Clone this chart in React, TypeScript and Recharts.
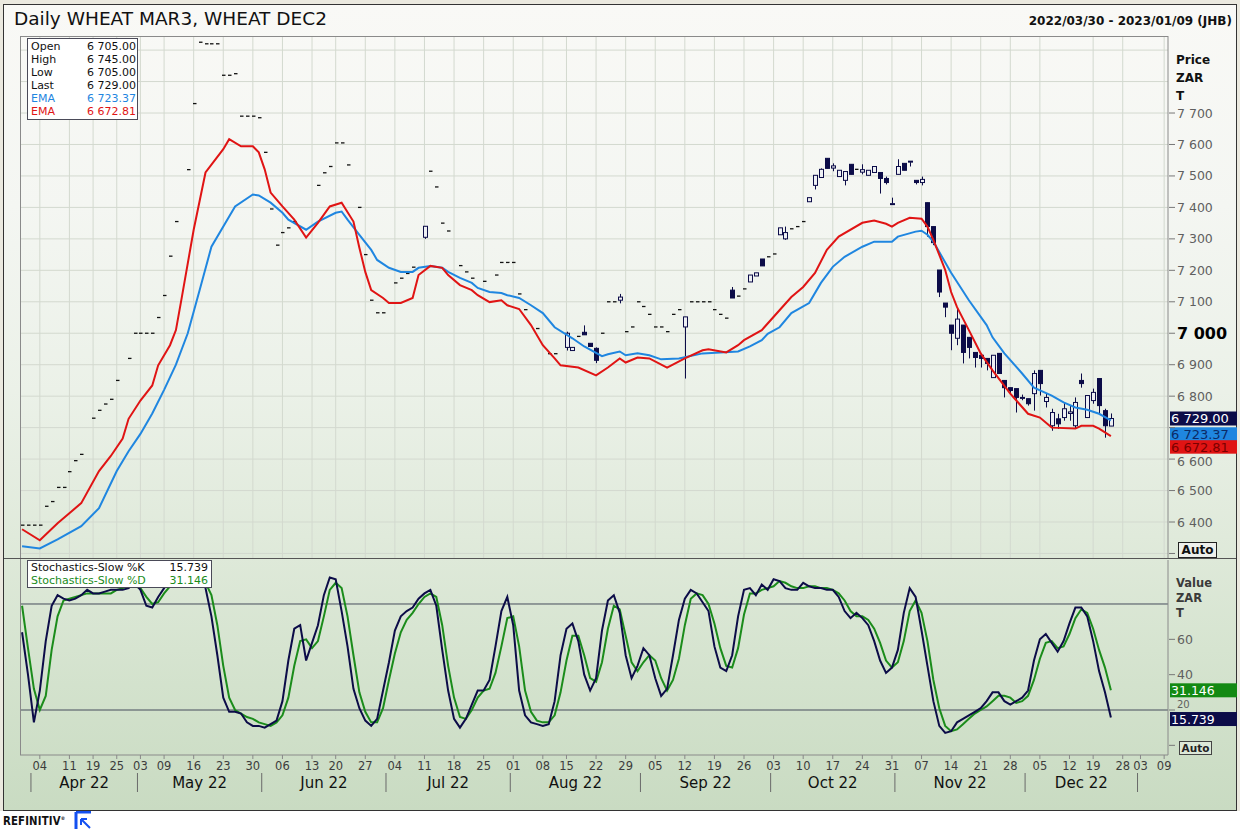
import React from 'react'
import { ComposedChart, Bar, Line, XAxis, YAxis, CartesianGrid, ReferenceLine } from 'recharts'

// ── Data ────────────────────────────────────────────────────────────────────
// x = trading-day index, 0 = 2022-03-30 (JSE calendar)

// [day, open, high, low, close]
const candles: [number, number, number, number, number][] = [
  [0, 6390, 6390, 6390, 6390], [1, 6390, 6390, 6390, 6390], [2, 6390, 6390, 6390, 6390], [3, 6390, 6390, 6390, 6390],
  [4, 6450, 6450, 6450, 6450], [5, 6465, 6465, 6465, 6465], [6, 6510, 6510, 6510, 6510], [7, 6510, 6510, 6510, 6510],
  [8, 6560, 6560, 6560, 6560], [9, 6595, 6595, 6595, 6595], [10, 6615, 6615, 6615, 6615], [12, 6730, 6730, 6730, 6730],
  [13, 6755, 6755, 6755, 6755], [14, 6775, 6775, 6775, 6775], [15, 6790, 6790, 6790, 6790], [16, 6850, 6850, 6850, 6850],
  [18, 6920, 6920, 6920, 6920], [19, 7000, 7000, 7000, 7000], [20, 7000, 7000, 7000, 7000], [21, 7000, 7000, 7000, 7000],
  [22, 7000, 7000, 7000, 7000], [23, 7050, 7050, 7050, 7050], [24, 7120, 7120, 7120, 7120], [25, 7245, 7245, 7245, 7245],
  [26, 7355, 7355, 7355, 7355], [28, 7520, 7520, 7520, 7520], [29, 7730, 7730, 7730, 7730], [30, 7925, 7925, 7925, 7925],
  [31, 7920, 7920, 7920, 7920], [32, 7920, 7920, 7920, 7920], [33, 7920, 7920, 7920, 7920], [34, 7820, 7820, 7820, 7820],
  [35, 7820, 7820, 7820, 7820], [36, 7825, 7825, 7825, 7825], [37, 7690, 7690, 7690, 7690], [38, 7690, 7690, 7690, 7690],
  [39, 7690, 7690, 7690, 7690], [40, 7685, 7685, 7685, 7685], [41, 7575, 7575, 7575, 7575], [42, 7395, 7395, 7395, 7395],
  [43, 7280, 7280, 7280, 7280], [44, 7320, 7320, 7320, 7320], [45, 7335, 7335, 7335, 7335], [46, 7355, 7355, 7355, 7355],
  [50, 7470, 7470, 7470, 7470], [51, 7510, 7510, 7510, 7510], [52, 7530, 7530, 7530, 7530], [53, 7605, 7605, 7605, 7605],
  [54, 7605, 7605, 7605, 7605], [55, 7535, 7535, 7535, 7535], [57, 7400, 7400, 7400, 7400], [58, 7250, 7250, 7250, 7250],
  [59, 7105, 7105, 7105, 7105], [60, 7065, 7065, 7065, 7065], [61, 7065, 7065, 7065, 7065], [63, 7160, 7160, 7160, 7160],
  [64, 7175, 7175, 7175, 7175], [65, 7190, 7190, 7190, 7190], [66, 7210, 7210, 7210, 7210], [68, 7305, 7340, 7300, 7340],
  [69, 7515, 7515, 7515, 7515], [70, 7465, 7465, 7465, 7465], [71, 7350, 7350, 7350, 7350], [72, 7325, 7325, 7325, 7325],
  [74, 7215, 7215, 7215, 7215], [75, 7195, 7195, 7195, 7195], [76, 7175, 7175, 7175, 7175], [78, 7165, 7165, 7165, 7165],
  [80, 7185, 7185, 7185, 7185], [81, 7225, 7225, 7225, 7225], [82, 7225, 7225, 7225, 7225], [83, 7225, 7225, 7225, 7225],
  [84, 7125, 7125, 7125, 7125], [85, 7075, 7075, 7075, 7075], [87, 7015, 7015, 7015, 7015], [89, 6935, 6935, 6935, 6935],
  [90, 6935, 6935, 6935, 6935], [92, 6955, 7005, 6945, 7000], [93, 6945, 6955, 6945, 6955], [94, 6990, 6990, 6990, 6990],
  [95, 7003, 7025, 6995, 6995], [96, 6968, 6968, 6958, 6958], [97, 6952, 6955, 6905, 6914], [98, 7000, 7000, 7000, 7000],
  [99, 7100, 7100, 7100, 7100], [100, 7100, 7100, 7100, 7100], [101, 7105, 7125, 7095, 7115], [102, 7005, 7005, 7005, 7005],
  [103, 7020, 7020, 7020, 7020], [104, 7100, 7100, 7100, 7100], [105, 7085, 7085, 7085, 7085], [106, 7060, 7060, 7060, 7060],
  [107, 7020, 7020, 7020, 7020], [108, 7020, 7020, 7020, 7020], [109, 7005, 7005, 7005, 7005], [110, 7060, 7060, 7060, 7060],
  [111, 7075, 7075, 7075, 7075], [112, 7020, 7052, 6856, 7052], [113, 7100, 7100, 7100, 7100], [114, 7100, 7100, 7100, 7100],
  [115, 7100, 7100, 7100, 7100], [116, 7100, 7100, 7100, 7100], [117, 7075, 7075, 7075, 7075], [118, 7060, 7060, 7060, 7060],
  [119, 7048, 7048, 7048, 7048], [120, 7137, 7147, 7112, 7112], [121, 7118, 7118, 7118, 7118], [122, 7141, 7141, 7141, 7141],
  [123, 7163, 7185, 7163, 7185], [124, 7182, 7192, 7182, 7192], [125, 7236, 7236, 7214, 7214], [126, 7243, 7243, 7243, 7243],
  [127, 7252, 7252, 7252, 7252], [128, 7313, 7335, 7313, 7335], [129, 7300, 7339, 7297, 7320], [130, 7332, 7332, 7332, 7332],
  [131, 7339, 7339, 7339, 7339], [132, 7355, 7355, 7355, 7355], [133, 7418, 7431, 7418, 7431], [134, 7470, 7502, 7457, 7502],
  [135, 7495, 7524, 7495, 7521], [136, 7556, 7556, 7524, 7524], [137, 7525, 7540, 7515, 7532], [138, 7498, 7518, 7498, 7518],
  [139, 7486, 7514, 7470, 7514], [140, 7537, 7537, 7505, 7505], [141, 7521, 7521, 7521, 7521], [142, 7512, 7537, 7505, 7520],
  [143, 7502, 7518, 7502, 7518], [144, 7511, 7530, 7511, 7530], [145, 7511, 7511, 7444, 7492], [146, 7492, 7498, 7473, 7479],
  [147, 7412, 7431, 7412, 7412], [148, 7505, 7553, 7505, 7530], [149, 7540, 7540, 7518, 7518], [150, 7547, 7547, 7530, 7547],
  [151, 7486, 7486, 7473, 7479], [152, 7479, 7498, 7470, 7489], [153, 7415, 7415, 7307, 7339], [154, 7339, 7339, 7280, 7288],
  [155, 7201, 7201, 7115, 7131], [156, 7096, 7096, 7051, 7083], [157, 7026, 7026, 6946, 7000], [158, 6984, 7080, 6962, 7045],
  [159, 7026, 7026, 6904, 6939], [160, 6987, 6987, 6920, 6955], [161, 6939, 6939, 6891, 6923], [162, 6930, 6930, 6891, 6920],
  [163, 6920, 6920, 6882, 6904], [164, 6859, 6930, 6859, 6930], [165, 6936, 6936, 6872, 6872], [166, 6850, 6850, 6796, 6827],
  [167, 6827, 6827, 6808, 6818], [168, 6824, 6824, 6748, 6796], [169, 6796, 6805, 6787, 6796], [170, 6792, 6792, 6770, 6776],
  [171, 6808, 6882, 6754, 6872], [172, 6882, 6882, 6802, 6840], [173, 6783, 6808, 6764, 6796], [174, 6706, 6760, 6690, 6748],
  [175, 6728, 6744, 6696, 6712], [176, 6732, 6780, 6722, 6760], [177, 6745, 6770, 6722, 6750], [178, 6706, 6796, 6696, 6780],
  [179, 6850, 6872, 6827, 6840], [180, 6732, 6802, 6732, 6802], [181, 6786, 6824, 6776, 6812], [182, 6856, 6856, 6744, 6770],
  [183, 6754, 6760, 6668, 6706], [184, 6705, 6745, 6705, 6729],
]

// [day, value]
const emaBlue: [number, number][] = [
  [0, 6323], [3, 6316], [6, 6345], [10, 6387], [13, 6444], [16, 6562], [18, 6625], [20, 6680], [22, 6745], [24, 6820],
  [26, 6900], [28, 7000], [30, 7137], [32, 7275], [35, 7371], [36, 7403], [39, 7441], [40, 7438], [42, 7415],
  [44, 7383], [45, 7361], [48, 7329], [50, 7355], [53, 7383], [54, 7387], [55, 7361], [57, 7313], [59, 7265], [60, 7233],
  [62, 7208], [64, 7195], [66, 7195], [67, 7208], [69, 7214], [71, 7208], [72, 7195], [74, 7176], [76, 7160], [77, 7144],
  [79, 7131], [81, 7128], [82, 7121], [84, 7112], [86, 7089], [88, 7064], [90, 7019], [93, 6984], [95, 6958], [98, 6927],
  [99, 6933], [101, 6942], [102, 6930], [104, 6936], [106, 6930], [108, 6917], [111, 6920], [115, 6936], [118, 6939],
  [121, 6942], [123, 6958], [125, 6978], [126, 6998], [128, 7019], [130, 7064], [133, 7096], [135, 7160], [137, 7211],
  [139, 7243], [142, 7275], [144, 7291], [147, 7291], [148, 7307], [151, 7323], [152, 7326], [153, 7313], [154, 7291],
  [157, 7192], [160, 7105], [163, 7026], [164, 6987], [166, 6936], [169, 6872], [171, 6827], [174, 6802], [176, 6780],
  [178, 6764], [180, 6757], [182, 6744], [184, 6723.37],
]

const emaRed: [number, number][] = [
  [0, 6377], [3, 6342], [6, 6396], [10, 6460], [13, 6562], [15, 6610], [17, 6665], [18, 6728], [20, 6786], [22, 6834],
  [23, 6898], [25, 6962], [26, 7010], [27, 7115], [29, 7329], [31, 7511], [34, 7585], [35, 7617], [37, 7594], [39, 7594],
  [40, 7575], [41, 7521], [42, 7447], [44, 7403], [46, 7361], [48, 7304], [50, 7351], [52, 7403], [54, 7415], [56, 7355],
  [57, 7272], [58, 7195], [59, 7137], [61, 7112], [62, 7096], [64, 7096], [66, 7112], [67, 7185], [69, 7214], [71, 7208],
  [72, 7185], [74, 7153], [76, 7137], [77, 7121], [79, 7099], [81, 7105], [82, 7089], [84, 7077], [86, 7026], [88, 6962],
  [90, 6920], [91, 6898], [94, 6891], [97, 6866], [99, 6891], [101, 6920], [102, 6907], [104, 6923], [106, 6920],
  [109, 6891], [112, 6920], [115, 6946], [116, 6949], [119, 6939], [121, 6962], [122, 6978], [125, 7010], [128, 7073],
  [130, 7115], [132, 7147], [134, 7192], [136, 7265], [138, 7307], [142, 7351], [144, 7358], [146, 7348], [147, 7339],
  [148, 7351], [150, 7367], [152, 7364], [153, 7339], [154, 7297], [155, 7249], [156, 7201], [157, 7131], [158, 7083],
  [160, 7010], [162, 6936], [164, 6882], [167, 6808], [170, 6744], [172, 6732], [174, 6700], [178, 6697], [179, 6706],
  [181, 6706], [182, 6697], [184, 6672.81],
]

// one value per trading day, 0..184
const stochK = [
  64, 40, 13, 31, 59, 79, 85, 83, 82, 83, 85, 88, 86, 86, 87, 88, 88, 88, 89, 92,
  88, 79, 78, 84, 89, 93, 93, 94, 94, 96, 95, 89, 73, 51, 27, 19, 19, 18, 13, 11,
  11, 10, 12, 14, 25, 48, 66, 68, 48, 58, 68, 85, 95, 94, 76, 56, 32, 21, 14, 11,
  15, 31, 47, 65, 73, 76, 78, 83, 86, 88, 79, 54, 31, 15, 10, 15, 23, 31, 31, 37,
  56, 76, 84, 68, 31, 17, 13, 12, 11, 12, 25, 51, 66, 69, 59, 40, 31, 38, 65, 82,
  85, 75, 51, 38, 45, 55, 51, 38, 28, 32, 51, 71, 83, 88, 86, 81, 76, 56, 44, 42,
  51, 73, 88, 89, 85, 91, 88, 94, 93, 89, 88, 88, 92, 90, 89, 89, 88, 88, 84, 76,
  72, 75, 72, 68, 59, 48, 41, 44, 54, 75, 89, 84, 65, 45, 25, 11, 7, 8, 13, 15,
  17, 19, 21, 25, 30, 30, 25, 23, 25, 27, 31, 48, 60, 63, 58, 53, 59, 69, 78, 78,
  73, 59, 42, 30, 15.739,
]

const stochD = [
  79, 55, 32, 20, 28, 54, 73, 82, 83, 84, 85, 86, 86, 86, 86, 86, 88, 89, 90, 90,
  89, 84, 80, 81, 86, 90, 92, 93, 94, 94, 94, 92, 85, 68, 45, 27, 20, 18, 16, 15,
  13, 12, 11, 13, 17, 27, 45, 59, 60, 55, 59, 73, 88, 92, 89, 73, 51, 30, 19, 13,
  13, 21, 37, 52, 64, 71, 75, 80, 84, 86, 84, 68, 45, 27, 16, 15, 20, 27, 31, 32,
  41, 56, 72, 73, 56, 31, 19, 14, 13, 13, 17, 30, 48, 62, 62, 51, 38, 36, 47, 66,
  79, 77, 62, 47, 42, 47, 51, 48, 38, 31, 37, 49, 68, 83, 86, 85, 80, 69, 55, 45,
  44, 55, 74, 86, 86, 88, 89, 90, 93, 92, 90, 89, 89, 90, 90, 89, 89, 88, 86, 82,
  76, 73, 73, 71, 66, 58, 48, 44, 47, 59, 76, 82, 75, 59, 37, 21, 11, 8, 9, 12,
  15, 18, 20, 22, 25, 28, 28, 27, 24, 25, 28, 37, 49, 58, 59, 55, 56, 63, 72, 77,
  75, 66, 54, 44, 31.146,
]

const weekTicks = [3, 8, 12, 16, 20, 24, 29, 34, 39, 44, 49, 53, 58, 63, 68, 73, 78, 83, 88, 92, 97, 102, 107,
  112, 117, 122, 127, 132, 137, 142, 147, 152, 157, 162, 167, 172, 177, 181, 186, 189, 193]
const weekLabels = ['04', '11', '19', '25', '03', '09', '16', '23', '30', '06', '13', '20', '27', '04', '11', '18',
  '25', '01', '08', '15', '22', '29', '05', '12', '19', '26', '03', '10', '17', '24', '31', '07', '14', '21', '28',
  '05', '12', '19', '28', '03', '09']

const monthNames = ['Apr 22', 'May 22', 'Jun 22', 'Jul 22', 'Aug 22', 'Sep 22', 'Oct 22', 'Nov 22', 'Dec 22']
const monthMids = [10.5, 30, 51, 72, 93.5, 115.5, 137, 158.5, 179]
const monthEdges = [1.5, 19.5, 40.5, 61.5, 82.5, 104.5, 126.5, 147.5, 169.5, 188.5]

const priceTicks = [6300, 6400, 6500, 6600, 6700, 6800, 6900, 7000, 7100, 7200, 7300, 7400, 7500, 7600, 7700]
const priceGrid = [...priceTicks, 7800, 7900]
const stochTicks = [0, 20, 40, 60]

const lastOpen = 6705
const lastHigh = 6745
const lastLow = 6705
const lastClose = 6729
const lastEmaBlue = 6723.37
const lastEmaRed = 6672.81
const lastK = 15.739
const lastD = 31.146

// ── Helpers ─────────────────────────────────────────────────────────────────

const FONT = '"DejaVu Sans", Verdana, sans-serif'
const NAVY = '#0c0c48'
const BLUE = '#1f86e0'
const RED = '#e01414'
const GREEN = '#1b8c1b'
const X_DOMAIN: [number, number] = [-0.35, 193.65]

const spaced = (v: number, dec = 0) => {
  const [i, f] = v.toFixed(dec).split('.')
  const s = i.replace(/\B(?=(\d{3})+(?!\d))/g, ' ')
  return f ? `${s}.${f}` : s
}

const priceRows = Array.from({ length: stochK.length }, (_, d) => ({ d } as any))
candles.forEach(([d, o, h, l, c]) => Object.assign(priceRows[d], { o, h, l, c, range: [l, h] }))
emaBlue.forEach(([d, v]) => { priceRows[d].blue = v })
emaRed.forEach(([d, v]) => { priceRows[d].red = v })

const stochRows = stochK.map((k, d) => ({ d, k, dd: stochD[d] }))

// eslint-disable-next-line @typescript-eslint/no-explicit-any
const CandleShape = (props: any) => {
  const { x, y, width, height, payload } = props
  if (!payload || payload.h == null || !Number.isFinite(y)) return null
  const { o, h, l, c } = payload
  const cx = Math.round(x + width / 2) + 0.5
  if (h === l) {
    return <line x1={cx - 1.5} x2={cx + 2} y1={y} y2={y} stroke="#111" strokeWidth={1.3} />
  }
  const k = height / (h - l)
  const yo = y + (h - o) * k
  const yc = y + (h - c) * k
  const top = Math.min(yo, yc)
  const bh = Math.max(Math.abs(yo - yc), 1)
  const up = c >= o
  return (
    <g>
      <line x1={cx} x2={cx} y1={y} y2={y + height} stroke={NAVY} strokeWidth={1} />
      <rect x={cx - 2} y={top} width={4} height={bh} fill={up ? '#eef0f4' : NAVY} stroke={NAVY} strokeWidth={1} />
    </g>
  )
}

// tick labels hidden by the value boxes / Auto buttons in the original
const hiddenPriceLabels = [6300, 6700]

// eslint-disable-next-line @typescript-eslint/no-explicit-any
const PriceTick = ({ x, y, payload }: any) => {
  const v = payload.value
  const big = v === 7000
  return (
    <g>
      <line x1={x + 1} x2={x + 7} y1={y} y2={y} stroke="#777" />
      {!hiddenPriceLabels.includes(v) && (
        <text x={x + 9} y={y} dy={big ? 6 : v === 6600 ? 6.5 : 4.5} fontSize={big ? 16 : 12.5}
          fontWeight={big ? 'bold' : 'normal'} fill={big ? '#000' : '#5f5f5f'}>{spaced(v)}</text>
      )}
    </g>
  )
}

// eslint-disable-next-line @typescript-eslint/no-explicit-any
const StochTick = ({ x, y, payload }: any) => (
  <g>
    <line x1={x + 1} x2={x + 7} y1={y} y2={y} stroke="#777" />
    {payload.value > 0 && (
      <text x={x + 9} y={y} dy={payload.value === 20 ? -2.5 : 4.5} fontSize={payload.value === 20 ? 10 : 12.5}
        fill="#5f5f5f">{payload.value}</text>
    )}
  </g>
)

// eslint-disable-next-line @typescript-eslint/no-explicit-any
const DayTick = ({ x, y, payload }: any) => {
  const i = weekTicks.indexOf(payload.value)
  return (
    <text x={x} y={y + 9} textAnchor="middle" fontSize={11.5} fill="#3c3c3c">{weekLabels[i]}</text>
  )
}

// eslint-disable-next-line @typescript-eslint/no-explicit-any
const MonthTick = ({ x, y, payload }: any) => {
  const i = monthMids.indexOf(payload.value)
  if (i < 0) return <line x1={x} x2={x} y1={y + 1} y2={y + 20} stroke="#6a6a6a" />
  return <text x={x} y={y + 16} textAnchor="middle" fontSize={15} fill="#111">{monthNames[i]}</text>
}

// eslint-disable-next-line @typescript-eslint/no-explicit-any
const ValueBox = ({ viewBox, text, bg, color, shift = 0, size = 13, h = 14 }: any) => {
  if (!viewBox) return null
  const x = viewBox.x + viewBox.width + 2
  const y = viewBox.y + shift
  return (
    <g>
      <rect x={x} y={y - 7} width={67} height={h} fill={bg} />
      <text x={x + 1} y={y + 4.5} fontSize={size} fill={color}>{text}</text>
    </g>
  )
}

const boxStyle: React.CSSProperties = {
  position: 'absolute', background: '#fff', border: '1px solid #4a4a58', fontSize: 11, lineHeight: '13px',
}

// ── Component ───────────────────────────────────────────────────────────────

export default function App() {
  const legendRows = [
    { label: 'Open', value: spaced(lastOpen, 2), color: '#111' },
    { label: 'High', value: spaced(lastHigh, 2), color: '#111' },
    { label: 'Low', value: spaced(lastLow, 2), color: '#111' },
    { label: 'Last', value: spaced(lastClose, 2), color: '#111' },
    { label: 'EMA', value: spaced(lastEmaBlue, 2), color: BLUE },
    { label: 'EMA', value: spaced(lastEmaRed, 2), color: RED },
  ]

  return (
    <div style={{ position: 'absolute', left: 0, top: 0, width: 1240, height: 830, background: '#fff', fontFamily: FONT, overflow: 'hidden' }}>
      <div style={{ position: 'absolute', left: 0, top: 0, width: 1240, height: 811, background: '#ebe9df' }} />
      <div style={{
        position: 'absolute', left: 3, top: 4, width: 1232, height: 805, border: '1px solid #333',
        background: 'linear-gradient(180deg, #f9f9f6 0%, #f4f6f2 25%, #ebf1e8 48%, #e0eadb 66%, #d6e4d0 80%, #c9dbc2 100%)',
      }} />

      {/* title */}
      <div style={{ position: 'absolute', left: 14, top: 8, fontSize: 18.5, lineHeight: '22px', color: '#111' }}>
        Daily WHEAT MAR3, WHEAT DEC2
      </div>
      <div style={{ position: 'absolute', right: 8, top: 14, fontSize: 12, fontWeight: 'bold', color: '#111' }}>
        2022/03/30 - 2023/01/09 (JHB)
      </div>

      {/* price panel */}
      <div style={{ position: 'absolute', left: 3, top: 3 }}>
        <ComposedChart width={1234} height={555} data={priceRows} margin={{ top: 33, right: 0, bottom: 0, left: 17 }}>
          <CartesianGrid stroke="#d3d9cf" horizontalValues={priceGrid} verticalValues={weekTicks} />
          <XAxis dataKey="d" type="number" domain={X_DOMAIN} hide />
          <YAxis orientation="right" width={69} domain={[6285.6, 7944.8]} ticks={priceTicks} interval={0}
            tick={<PriceTick />} tickLine={false} tickSize={0} tickMargin={0} axisLine={{ stroke: '#8a8a8a' }} />
          <Bar dataKey="range" barSize={4} shape={<CandleShape />} isAnimationActive={false} />
          <Line dataKey="blue" stroke={BLUE} strokeWidth={2} dot={false} connectNulls isAnimationActive={false} />
          <Line dataKey="red" stroke={RED} strokeWidth={2} dot={false} connectNulls isAnimationActive={false} />
          <ReferenceLine y={lastClose} stroke="none" label={<ValueBox text={spaced(lastClose, 2)} bg={NAVY} color="#fff" />} />
          <ReferenceLine y={lastEmaBlue} stroke="none" label={<ValueBox text={spaced(lastEmaBlue, 2)} bg={BLUE} color="#0b2a66" shift={14} />} />
          <ReferenceLine y={lastEmaRed} stroke="none" label={<ValueBox text={spaced(lastEmaRed, 2)} bg={RED} color="#7a0000" shift={11} h={13.5} />} />
        </ComposedChart>
      </div>

      {/* stochastics panel */}
      <div style={{ position: 'absolute', left: 3, top: 558 }}>
        <ComposedChart width={1234} height={252} data={stochRows} margin={{ top: 2, right: 0, bottom: 0, left: 17 }}>
          <XAxis xAxisId="days" dataKey="d" type="number" domain={X_DOMAIN} ticks={weekTicks} interval={0}
            height={17} tick={<DayTick />} tickSize={4} tickMargin={2} tickLine={{ stroke: '#888' }}
            axisLine={{ stroke: '#8a8a8a' }} />
          <XAxis xAxisId="months" dataKey="d" type="number" domain={X_DOMAIN}
            ticks={[...monthEdges, ...monthMids].sort((a, b) => a - b)} interval={0} height={38}
            tick={<MonthTick />} tickLine={false} tickSize={0} tickMargin={0} axisLine={false} />
          <YAxis orientation="right" width={69} domain={[-5.47, 104.9]} ticks={stochTicks} interval={0}
            tick={<StochTick />} tickLine={false} tickSize={0} tickMargin={0} axisLine={{ stroke: '#8a8a8a' }} />
          <ReferenceLine xAxisId="days" y={80} stroke="#474d5c" />
          <ReferenceLine xAxisId="days" y={20} stroke="#474d5c" />
          <Line xAxisId="days" dataKey="dd" stroke={GREEN} strokeWidth={2} dot={false} isAnimationActive={false} />
          <Line xAxisId="days" dataKey="k" stroke={NAVY} strokeWidth={2} dot={false} isAnimationActive={false} />
          <ReferenceLine xAxisId="days" y={lastD} stroke="none" label={<ValueBox text={lastD.toFixed(3)} bg="#138a13" color="#fff" size={12.5} />} />
          <ReferenceLine xAxisId="days" y={lastK} stroke="none" label={<ValueBox text={lastK.toFixed(3)} bg={NAVY} color="#fff" size={12.5} shift={1.5} />} />
        </ComposedChart>
      </div>

      {/* panel borders */}
      <div style={{ position: 'absolute', left: 20, top: 36, width: 1148, height: 1, background: '#8a8a8a' }} />
      <div style={{ position: 'absolute', left: 20, top: 36, width: 1, height: 719, background: '#8a8a8a' }} />
      <div style={{ position: 'absolute', left: 4, top: 558, width: 1232, height: 1, background: '#555' }} />

      {/* legends */}
      <div style={{ ...boxStyle, left: 27, top: 38, width: 109, height: 79, padding: '1px 0 0 0' }}>
        {legendRows.map((r, i) => (
          <div key={i} style={{ display: 'flex', justifyContent: 'space-between', padding: '0 1px 0 3px', color: r.color }}>
            <span>{r.label}</span><span>{r.value}</span>
          </div>
        ))}
      </div>
      <div style={{ ...boxStyle, left: 27, top: 560, width: 183, height: 26, padding: '0' }}>
        <div style={{ display: 'flex', justifyContent: 'space-between', padding: '0 3px', color: '#111' }}>
          <span>Stochastics-Slow %K</span><span>{lastK.toFixed(3)}</span>
        </div>
        <div style={{ display: 'flex', justifyContent: 'space-between', padding: '0 3px', color: GREEN }}>
          <span>Stochastics-Slow %D</span><span>{lastD.toFixed(3)}</span>
        </div>
      </div>

      {/* axis captions */}
      <div style={{ position: 'absolute', left: 1176, top: 51, fontSize: 12, fontWeight: 'bold', lineHeight: '18px', color: '#111' }}>
        <div>Price</div><div>ZAR</div><div>T</div>
      </div>
      <div style={{ position: 'absolute', left: 1176, top: 576, fontSize: 11.5, fontWeight: 'bold', lineHeight: '15px', color: '#3a3a3a' }}>
        <div>Value</div><div>ZAR</div><div>T</div>
      </div>
      <div style={{ position: 'absolute', left: 1178, top: 542, width: 37, height: 14, border: '1px solid #222', background: '#eef0ec',
        fontSize: 12, fontWeight: 'bold', lineHeight: '14px', textAlign: 'center', color: '#111' }}>Auto</div>
      <div style={{ position: 'absolute', left: 1179, top: 741, width: 31, height: 12, border: '1px solid #444', background: '#dde8d8',
        fontSize: 10.5, fontWeight: 'bold', lineHeight: '12px', textAlign: 'center', color: '#222' }}>Auto</div>

      {/* footer logo */}
      <div style={{ position: 'absolute', left: 3, top: 814, fontSize: 11.5, fontWeight: 'bold', letterSpacing: 0.2, color: '#111',
        transform: 'scaleX(0.88)', transformOrigin: 'left' }}>REFINITIV<sup style={{ fontSize: 5 }}>®</sup></div>
      <svg style={{ position: 'absolute', left: 74, top: 811 }} width={20} height={19}>
        <path d="M2 1 H17 M2 1 V18" stroke="#1450f0" strokeWidth={3} fill="none" />
        <path d="M16 17 L7 8 M7 8 L7 14 M7 8 L13 8" stroke="#1450f0" strokeWidth={2} fill="none" />
      </svg>
    </div>
  )
}
